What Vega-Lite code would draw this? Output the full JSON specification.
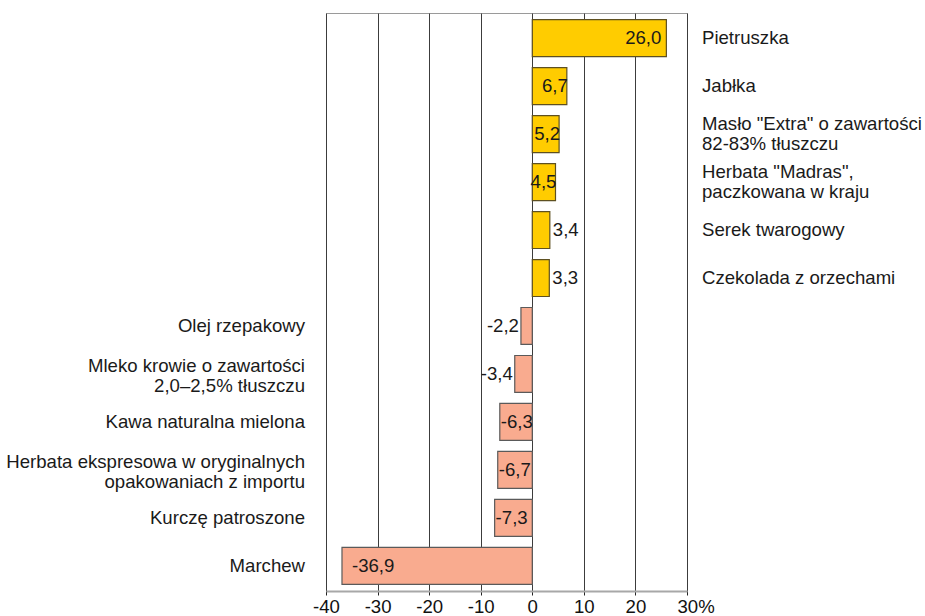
{
  "$schema": "https://vega.github.io/schema/vega-lite/v6.json",
  "width": 361,
  "height": 578,
  "autosize": {"type": "none"},
  "padding": {"left": 326, "top": 13, "right": 238, "bottom": 25},
  "background": "white",
  "config": {
    "font": "Liberation Sans",
    "locale": {"number": {"decimal": ",", "thousands": " ", "grouping": [3], "currency": ["", " zł"], "minus": "-"}},
    "view": {"stroke": "#9a9a9a", "strokeWidth": 1},
    "text": {"fontSize": 18.6, "color": "#1a1a1a", "baseline": "middle"}
  },
  "data": {
    "values": [
      {"name": "Pietruszka", "value": 26.0},
      {"name": "Jabłka", "value": 6.7},
      {"name": "Masło \"Extra\" o zawartości\n82-83% tłuszczu", "value": 5.2},
      {"name": "Herbata \"Madras\",\npaczkowana w kraju", "value": 4.5},
      {"name": "Serek twarogowy", "value": 3.4},
      {"name": "Czekolada z orzechami", "value": 3.3},
      {"name": "Olej rzepakowy", "value": -2.2},
      {"name": "Mleko krowie o zawartości\n2,0–2,5% tłuszczu", "value": -3.4},
      {"name": "Kawa naturalna mielona", "value": -6.3},
      {"name": "Herbata ekspresowa w oryginalnych\nopakowaniach z importu", "value": -6.7},
      {"name": "Kurczę patroszone", "value": -7.3},
      {"name": "Marchew", "value": -36.9}
    ]
  },
  "encoding": {
    "y": {"field": "name", "type": "nominal", "sort": null, "axis": null,
          "scale": {"paddingInner": 0.23, "paddingOuter": 0.14}}
  },
  "layer": [
    {
      "mark": {"type": "bar", "strokeWidth": 1.2},
      "encoding": {
        "x": {"field": "value", "type": "quantitative",
              "scale": {"domain": [-40, 30], "nice": false, "zero": false},
              "axis": {
                "title": null,
                "values": [-40, -30, -20, -10, 0, 10, 20, 30],
                "format": "d",
                "labelExpr": "datum.value == 30 ? '30%' : datum.label",
                "labelAlign": {"condition": {"test": "datum.value == 30", "value": "left"}, "value": "center"},
                "labelOffset": {"condition": {"test": "datum.value == 30", "value": -10}, "value": 0},
                "grid": true, "gridColor": "#3c3c3c", "gridWidth": 1, "gridOpacity": 1,
                "domainColor": "#a8a8a8", "domainWidth": 2,
                "tickColor": "#222", "tickSize": 4, "tickWidth": 1,
                "labelFontSize": 18.6, "labelColor": "#111", "labelPadding": 2,
                "labelFont": "Liberation Sans"
              }},
        "fill": {"condition": {"test": "datum.value > 0", "value": "#FFCC00"}, "value": "#F9AB8F"},
        "stroke": {"condition": {"test": "datum.value > 0", "value": "#5e5021"}, "value": "#5a5a5a"}
      }
    },
    {
      "transform": [{"filter": "datum.value >= 10"}],
      "mark": {"type": "text", "align": "right", "dx": -5},
      "encoding": {
        "x": {"field": "value", "type": "quantitative"},
        "text": {"field": "value", "type": "quantitative", "format": ".1f"}
      }
    },
    {
      "transform": [{"filter": "datum.value >= 4 && datum.value < 10"}],
      "mark": {"type": "text", "align": "center", "dx": -12},
      "encoding": {
        "x": {"field": "value", "type": "quantitative"},
        "text": {"field": "value", "type": "quantitative", "format": ".1f"}
      }
    },
    {
      "transform": [{"filter": "datum.value > 0 && datum.value < 4"}],
      "mark": {"type": "text", "align": "left", "dx": 3},
      "encoding": {
        "x": {"field": "value", "type": "quantitative"},
        "text": {"field": "value", "type": "quantitative", "format": ".1f"}
      }
    },
    {
      "transform": [{"filter": "datum.value <= -4 && datum.value > -10"}],
      "mark": {"type": "text", "align": "center", "dx": 17},
      "encoding": {
        "x": {"field": "value", "type": "quantitative"},
        "text": {"field": "value", "type": "quantitative", "format": ".1f"}
      }
    },
    {
      "transform": [{"filter": "datum.value <= -10"}],
      "mark": {"type": "text", "align": "left", "dx": 10},
      "encoding": {
        "x": {"field": "value", "type": "quantitative"},
        "text": {"field": "value", "type": "quantitative", "format": ".1f"}
      }
    },
    {
      "transform": [{"filter": "datum.value < 0 && datum.value > -4"}],
      "mark": {"type": "text", "align": "right", "dx": -2},
      "encoding": {
        "x": {"field": "value", "type": "quantitative"},
        "text": {"field": "value", "type": "quantitative", "format": ".1f"}
      }
    },
    {
      "transform": [{"filter": "datum.value > 0 && indexof(datum.name, '\\n') < 0"}],
      "mark": {"type": "text", "align": "left", "dx": 15},
      "encoding": {
        "x": {"datum": 30, "type": "quantitative"},
        "text": {"field": "name", "type": "nominal"}
      }
    },
    {
      "transform": [{"filter": "datum.value > 0 && indexof(datum.name, '\\n') >= 0"}],
      "mark": {"type": "text", "align": "left", "dx": 15, "dy": -10, "lineBreak": "\n", "lineHeight": 20},
      "encoding": {
        "x": {"datum": 30, "type": "quantitative"},
        "text": {"field": "name", "type": "nominal"}
      }
    },
    {
      "transform": [{"filter": "datum.value < 0 && indexof(datum.name, '\\n') < 0"}],
      "mark": {"type": "text", "align": "right", "dx": -21},
      "encoding": {
        "x": {"datum": -40, "type": "quantitative"},
        "text": {"field": "name", "type": "nominal"}
      }
    },
    {
      "transform": [{"filter": "datum.value < 0 && indexof(datum.name, '\\n') >= 0"}],
      "mark": {"type": "text", "align": "right", "dx": -21, "dy": -8, "lineBreak": "\n", "lineHeight": 20},
      "encoding": {
        "x": {"datum": -40, "type": "quantitative"},
        "text": {"field": "name", "type": "nominal"}
      }
    }
  ]
}
